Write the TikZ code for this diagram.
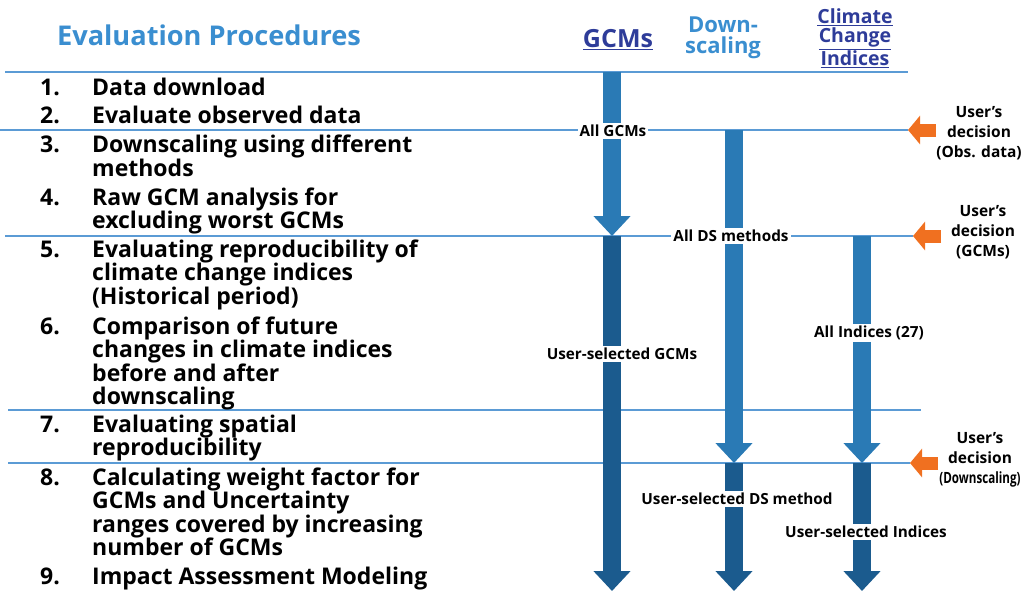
\documentclass[tikz,border=0pt]{standalone}
\usepackage{fontspec}
\setmainfont{Open Sans}
\usetikzlibrary{arrows.meta,positioning}
\definecolor{flowlight}{HTML}{2A7AB5}
\definecolor{flowdark}{HTML}{1B5B8E}
\definecolor{ruleblue}{HTML}{5B9BD5}
\definecolor{headblue}{HTML}{3A8ED0}
\definecolor{headdark}{HTML}{2E3C99}
\definecolor{decorange}{HTML}{F07020}
\tikzstyle{sepline} = [draw=ruleblue, line width=1.3pt]
\tikzstyle{lightflow} = [draw=flowlight, line width=18pt, -{Triangle[width=36pt,length=20pt]}]
\tikzstyle{darkflow} = [draw=flowdark, line width=18pt, -{Triangle[width=36pt,length=20pt]}]
\tikzstyle{decarrow} = [draw=decorange, line width=13pt, -{Triangle[width=28pt,length=12pt]}]
\tikzstyle{num} = [anchor=base west, inner sep=0, font=\bfseries\fontsize{23}{23.5}\selectfont]
\tikzstyle{stage} = [anchor=base west, inner sep=0, align=left, font=\bfseries\fontsize{23}{23.5}\selectfont]
\tikzstyle{flowlabel} = [fill=white, inner sep=2pt, font=\bfseries\fontsize{15.3}{17}\selectfont]
\tikzstyle{decision} = [align=center, inner sep=1pt, font=\bfseries\fontsize{15.5}{20}\selectfont]

\begin{document}
\begin{tikzpicture}[x=1pt, y=-1pt]
				\useasboundingbox (0,0) rectangle (1025,592);

				% Headings
				\node (title) [text=headblue, font=\bfseries\fontsize{27.2}{30}\selectfont] at (209,35) {Evaluation Procedures};
				\node (gcmhead) [text=headdark, font=\bfseries\fontsize{25}{25}\selectfont] at (618,40) {\underline{GCMs}};
				\node (dshead) [text=headblue, align=center, font=\bfseries\fontsize{22}{20.5}\selectfont] at (723,38) {Down-\\scaling};
				\node (indhead) [text=headdark, align=center, font=\bfseries\fontsize{19.5}{19.5}\selectfont] at (855,38) {\underline{Climate}\\\underline{Change}\\\underline{Indices}};

				% Separating lines
				\draw [sepline] (5,72) -- (908,72);
				\draw [sepline] (0,130) -- (908,130);
				\draw [sepline] (5,236) -- (913,236);
				\draw [sepline] (8,410) -- (921,410);
				\draw [sepline] (8,463) -- (910,463);

				% Place steps (base = last line)
				\node (n1) [num] at (40,95) {1.};
				\node (s1) [stage] at (92,95) {Data download};
				\node (n2) [num] at (40,123) {2.};
				\node (s2) [stage] at (92,123) {Evaluate observed data};
				\node (n3) [num] at (40,152) {3.};
				\node (s3) [stage] at (92,176) {Downscaling using different\\methods};
				\node (n4) [num] at (40,205) {4.};
				\node (s4) [stage] at (92,228.5) {Raw GCM analysis for\\excluding worst GCMs};
				\node (n5) [num] at (40,257) {5.};
				\node (s5) [stage] at (92,304) {Evaluating reproducibility of\\climate change indices\\(Historical period)};
				\node (n6) [num] at (40,334) {6.};
				\node (s6) [stage] at (92,404.5) {Comparison of future\\changes in climate indices\\before and after\\downscaling};
				\node (n7) [num] at (40,432) {7.};
				\node (s7) [stage] at (92,455.5) {Evaluating spatial\\reproducibility};
				\node (n8) [num] at (40,485) {8.};
				\node (s8) [stage] at (92,555.5) {Calculating weight factor for\\GCMs and Uncertainty\\ranges covered by increasing\\number of GCMs};
				\node (n9) [num] at (40,584) {9.};
				\node (s9) [stage] at (92,584) {Impact Assessment Modeling};

				% Arrow ends
				\coordinate (gcmtop) at (612,72);
				\coordinate (gcmmid) at (612,236);
				\coordinate (gcmend) at (612,591);
				\coordinate (dstop) at (734,130);
				\coordinate (dsmid) at (734,463);
				\coordinate (dsend) at (734,591);
				\coordinate (indtop) at (862,236);
				\coordinate (indmid) at (862,463);
				\coordinate (indend) at (862,591);

				% Draw arrows
				\draw [lightflow] (gcmtop) -- (gcmmid);
				\draw [darkflow] (gcmmid) -- (gcmend);
				\draw [lightflow] (dstop) -- (dsmid);
				\draw [darkflow] (dsmid) -- (dsend);
				\draw [lightflow] (indtop) -- (indmid);
				\draw [darkflow] (indmid) -- (indend);

				% Arrow labels
				\node (allgcm) [flowlabel] at (613,131) {All GCMs};
				\node (allds) [flowlabel] at (731,236) {All DS methods};
				\node (selgcm) [flowlabel] at (622,354) {User-selected GCMs};
				\node (allind) [flowlabel] at (869,333) {All Indices (27)};
				\node (selds) [flowlabel] at (737,499) {User-selected DS method};
				\node (selind) [flowlabel] at (866,532) {User-selected Indices};

				% User decisions
				\node (decobs) [decision] at (979,133) {User’s\\decision\\(Obs. data)};
				\node (decgcm) [decision] at (983,232) {User’s\\decision\\(GCMs)};
				\node (decds) [decision] at (980,460) {User’s\\decision\\\scalebox{0.75}[1]{(Downscaling)}};
				\coordinate (obstip) at (908,130);
				\coordinate (gcmtip) at (913,236);
				\coordinate (dstip) at (910,463);
				\draw [decarrow] (936,130) -- (obstip);
				\draw [decarrow] (941,236) -- (gcmtip);
				\draw [decarrow] (938,463) -- (dstip);

			\end{tikzpicture}
\end{document}
